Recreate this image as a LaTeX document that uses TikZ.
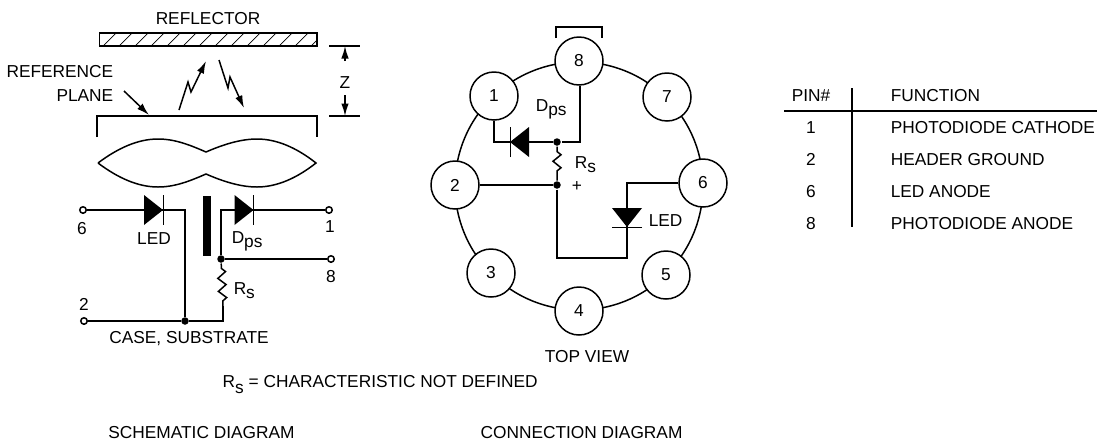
\documentclass[tikz,border=0pt]{standalone}
\usepackage{fontspec}
\setmainfont{Liberation Sans}
\usetikzlibrary{arrows.meta,decorations.pathmorphing}
\newcommand{\lowr}[1]{\raisebox{-2.5pt}{#1}}

\begin{document}
\begin{tikzpicture}[x=0.02cm,y=-0.02cm,line width=0.85pt,
lbl/.style={inner sep=0pt,anchor=base,font=\fontsize{9.85}{11}\selectfont},
lblw/.style={lbl,anchor=base west},
lble/.style={lbl,anchor=base east},
pinc/.style={circle,draw,fill=white,minimum size=0.96cm,inner sep=0pt,font=\fontsize{9.85}{11}\selectfont},
term/.style={circle,draw,fill=white,minimum size=0.13cm,inner sep=0pt},
jdot/.style={circle,fill=black,minimum size=0.15cm,inner sep=0pt},
arr/.style={-{Latex[length=0.25cm,width=0.15cm]}},
res/.style={decorate,decoration={zigzag,amplitude=0.08cm,segment length=0.26cm,pre length=0.1cm,post length=0.1cm}},
diode/.pic={\fill (-9.5,-15) -- (9.5,0) -- (-9.5,15) -- cycle;
  \draw[line width=0.4pt] (9.5,-15) -- (9.5,15);}]
\useasboundingbox (0,0) rectangle (1098,440);

    % Reflector and reference plane
    \node (Reflector) [lbl] at (208,24) {REFLECTOR};
    \begin{scope}
      \clip (99.5,33) rectangle (317,46);
      \foreach \x in {103,119,...,327}
        \draw[line width=0.4pt] (\x,46) -- (\x+13,33);
    \end{scope}
    \draw (99.5,33) rectangle (317,46);
    \node (Ref1) [lble] at (114,77) {REFERENCE};
    \node (Ref2) [lble] at (114,101) {PLANE};
    \coordinate (PlaneA) at (124,91);
    \coordinate (PlaneB) at (149,115);
    \draw[arr] (PlaneA) -- (PlaneB);
    \draw (97,137) -- (97,116) -- (317,116) -- (317,137);
    \draw[arr] (179,110) -- (188,82) -- (191,92) -- (206,61);
    \draw[arr] (219,60) -- (228,88) -- (230,77) -- (244,108);
    \coordinate (ZtopA) at (329,46);
    \coordinate (ZtopB) at (360,46);
    \coordinate (ZbotA) at (329,116);
    \coordinate (ZbotB) at (360,116);
    \draw (ZtopA) -- (ZtopB);
    \draw (ZbotA) -- (ZbotB);
    \node (Z) [lbl] at (345,88) {Z};
    \draw[arr] (345,61) -- (345,46);
    \draw[arr] (345,95) -- (345,116);
    \draw (98,163) .. controls (118,148) and (138,139) .. (158,139)
       .. controls (175,139) and (190,145) .. (206,152)
       .. controls (222,145) and (240,139) .. (257,139)
       .. controls (277,139) and (297,148) .. (316,163)
       .. controls (297,178) and (277,187) .. (257,187)
       .. controls (240,187) and (222,181) .. (206,174)
       .. controls (190,181) and (175,187) .. (158,187)
       .. controls (138,187) and (118,178) .. (98,163);

    % Schematic diagram
    \node (T6) [term] at (83,210) {};
    \node (T2) [term] at (84,321) {};
    \node (T1) [term] at (329,210) {};
    \node (T8) [term] at (331,259) {};
    \node (Case) [jdot] at (185,321) {};
    \node (Sense) [jdot] at (221,259) {};
    \coordinate (Ca) at (185,210);
    \coordinate (Cb) at (221,210);
    \coordinate (Cc) at (223,321);
    \coordinate (Cd) at (223,306);
    \draw (T6) -- (Ca) -- (Case);
    \draw (T2) -- (Case) -- (Cc) -- (Cd);
    \draw (Sense) -- (Cb) -- (T1);
    \draw (Sense) -- (T8);
    \draw[res] (Sense) -- (Cd);
    \pic at (153.5,210) {diode};
    \pic at (244,210) {diode};
    \fill (203,196) rectangle (211,256);
    \node (L6) [lbl] at (82,234) {6};
    \node (LLed) [lbl] at (154,244) {LED};
    \node (LDps) [lblw] at (231,243) {D\lowr{ps}};
    \node (L1) [lbl] at (330,232) {1};
    \node (L8) [lbl] at (331,282) {8};
    \node (LRs) [lblw] at (233,294) {R\lowr{s}};
    \node (L2) [lbl] at (84,310) {2};
    \node (LCase) [lbl] at (189,343) {CASE, SUBSTRATE};

    % Connection diagram
    \coordinate (Hub) at (579,186);
    \draw (Hub) circle [radius=2.48cm];
    \node (P8) [pinc] at (579,61) {8};
    \node (P1) [pinc] at (494,96) {1};
    \node (P7) [pinc] at (667,97) {7};
    \node (P2) [pinc] at (455,185) {2};
    \node (P6) [pinc] at (703,183) {6};
    \node (P3) [pinc] at (491,273) {3};
    \node (P5) [pinc] at (666,275) {5};
    \node (P4) [pinc] at (579,311) {4};
    \draw (556,38) -- (556,27) -- (602,27) -- (602,38);
    \node (JTop) [jdot] at (557,142) {};
    \node (JMid) [jdot] at (557,185) {};
    \coordinate (Wa) at (580,142);
    \coordinate (Wb) at (494,142);
    \coordinate (Wc) at (557,258);
    \coordinate (Wd) at (627,258);
    \coordinate (We) at (627,183);
    \draw (P8.south -| Wa) -- (Wa) -- (JTop) -- (Wb) -- (P1.south);
    \draw[res] (JTop) -- (JMid);
    \draw (P2) -- (JMid) -- (Wc) -- (Wd) -- (We) -- (We -| P6.west);
    \pic[rotate=180] at (519.5,142) {diode};
    \pic[rotate=-90] at (627,217.5) {diode};
    \node (CDps) [lblw] at (535,111) {D\lowr{ps}};
    \node (CRs) [lblw] at (574,168) {R\lowr{s}};
    \node (CPlus) [lbl] at (577,191.5) {+};
    \node (CLed) [lblw] at (648,226) {LED};
    \node (TopView) [lbl] at (587,362) {TOP VIEW};

    % Pin table
    \coordinate (HlineA) at (784,111);
    \coordinate (HlineB) at (1097,111);
    \coordinate (VlineA) at (852,88);
    \coordinate (VlineB) at (852,227);
    \draw (HlineA) -- (HlineB);
    \draw (VlineA) -- (VlineB);
    \node (PinHead) [lbl] at (811,101) {PIN\#};
    \node (FuncHead) [lblw] at (890,101) {FUNCTION};
    \foreach \num/\y/\func in {1/133/PHOTODIODE CATHODE,2/165/HEADER GROUND,6/197/LED ANODE,8/229/PHOTODIODE ANODE}{
      \node (Num\num) [lbl] at (811,\y) {\num};
      \node (Func\num) [lblw] at (890,\y) {\func};
    }

    % Captions
    \node (Note) [lblw] at (222,387) {R\raisebox{-3.5pt}{s} = CHARACTERISTIC NOT DEFINED};
    \node (CapL) [lbl] at (201.5,438) {SCHEMATIC DIAGRAM};
    \node (CapR) [lbl] at (581.5,438) {CONNECTION DIAGRAM};

\end{tikzpicture}
\end{document}
